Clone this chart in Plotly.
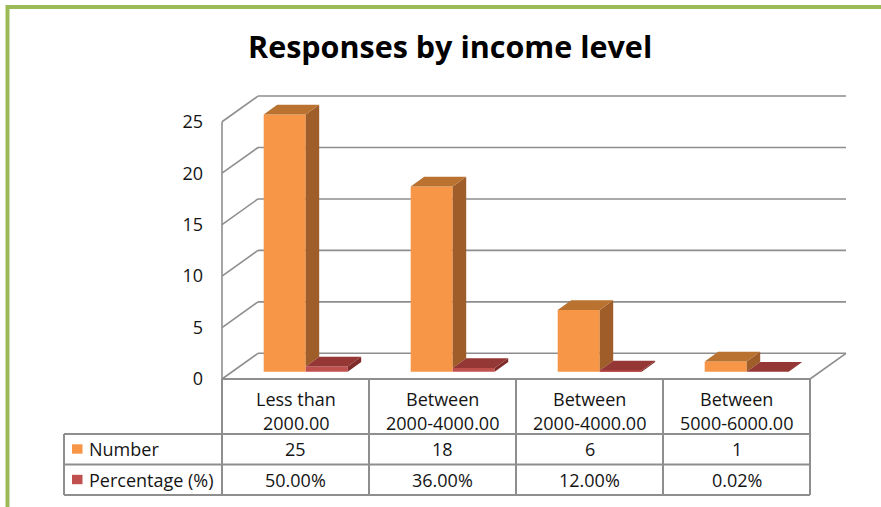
import plotly.graph_objects as go

# chart data
CATEGORIES = ["Less than<br>2000.00", "Between<br>2000-4000.00",
              "Between<br>2000-4000.00", "Between<br>5000-6000.00"]
NUMBER = [25, 18, 6, 1]
PERCENTAGE = [50.00, 36.00, 12.00, 0.02]
Y_TICKS = [0, 5, 10, 15, 20, 25]
TITLE = "Responses by income level"

# styling
W, H = 881, 507
FONT = "Open Sans"
TEXT = "#141414"
GRID = "#8e8e8e"
GREEN = "#9BBB59"
ORANGE = dict(front="#F79646", side="#9E5D29", top="#BA7231")
RED = dict(front="#C0504D", side="#7E2B29", top="#953735")

# pseudo-3d geometry, in data units (1 x unit = one category)
X_PX, Y_PX = 147.0, 10.29          # pixels per data unit
X0_PX, Y0_PX = 222.0, 379.0        # pixel position of the front origin
BACK_DX, BACK_DY = 36 / X_PX, 25.7 / Y_PX
BAR_DX, BAR_DY = 10.2 / X_PX, 7.3 / Y_PX
DEPTH_DX, DEPTH_DY = 13.5 / X_PX, 9.7 / Y_PX
BAR_W = 0.2857


def px(x):
    return x / W


def py(y):
    return 1 - y / H


n = len(CATEGORIES)
pct_values = [p / 100 for p in PERCENTAGE]

fig = go.Figure()

series = [("Number", NUMBER, ORANGE, -0.5), ("Percentage (%)", pct_values, RED, 0.5)]

# front faces
for name, vals, col, off in series:
    fig.add_trace(go.Bar(
        x=[i + 0.5 + BAR_DX + off * BAR_W for i in range(n)],
        y=vals,
        base=BAR_DY,
        width=BAR_W,
        marker=dict(color=col["front"], line_width=0),
        name=name,
        showlegend=False,
        hoverinfo="skip",
    ))


def faces(vals, off, floor_vals=None):
    sx, sy, tx, ty = [], [], [], []
    for i, v in enumerate(vals):
        x0 = i + 0.5 + BAR_DX + off * BAR_W - BAR_W / 2
        x1 = x0 + BAR_W
        b = BAR_DY
        top = b + v
        sb = b + (floor_vals[i] if floor_vals else 0)
        sx += [x1, x1 + DEPTH_DX, x1 + DEPTH_DX, x1, x1, None]
        sy += [sb, sb + DEPTH_DY, top + DEPTH_DY, top, sb, None]
        tx += [x0, x1, x1 + DEPTH_DX, x0 + DEPTH_DX, x0, None]
        ty += [top, top, top + DEPTH_DY, top + DEPTH_DY, top, None]
    return sx, sy, tx, ty


# side and top faces; orange side starts above the red bar standing next to it
for name, vals, col, off in series:
    floor = pct_values if name == "Number" else None
    sx, sy, tx, ty = faces(vals, off, floor)
    for xs, ys, c in ((sx, sy, col["side"]), (tx, ty, col["top"])):
        fig.add_trace(go.Scatter(
            x=xs, y=ys, mode="lines", fill="toself", fillcolor=c,
            line=dict(width=0, color=c), showlegend=False, hoverinfo="skip",
        ))

shapes = []
line = dict(color=GRID, width=1.6)
# walls and floor
for v in Y_TICKS:
    shapes.append(dict(type="line", xref="x", yref="y", layer="below",
                       x0=0, y0=v, x1=BACK_DX, y1=v + BACK_DY, line=line))
    shapes.append(dict(type="line", xref="x", yref="y", layer="below",
                       x0=BACK_DX, y0=v + BACK_DY, x1=n + BACK_DX, y1=v + BACK_DY, line=line))
shapes.append(dict(type="line", xref="x", yref="y", layer="below",
                   x0=0, y0=0, x1=0, y1=max(Y_TICKS), line=line))
shapes.append(dict(type="line", xref="x", yref="y", layer="below",
                   x0=n, y0=0, x1=n + BACK_DX, y1=BACK_DY, line=line))

# data table
tline = dict(color=GRID, width=2)
ROW_TOP, ROW1, ROW2, ROW_BOT = 379, 434, 464.5, 495
LEFT = 64
shapes.append(dict(type="line", xref="x", yref="paper", x0=0, x1=n,
                   y0=py(ROW_TOP), y1=py(ROW_TOP), line=tline))
for yy in (ROW1, ROW2, ROW_BOT):
    shapes.append(dict(type="line", xref="paper", yref="paper", x0=px(LEFT),
                       x1=px(X0_PX + n * X_PX), y0=py(yy), y1=py(yy), line=tline))
for i in range(n + 1):
    shapes.append(dict(type="line", xref="x", yref="paper", x0=i, x1=i,
                       y0=py(ROW_TOP), y1=py(ROW_BOT), line=tline))
shapes.append(dict(type="line", xref="paper", yref="paper", x0=px(LEFT), x1=px(LEFT),
                   y0=py(ROW1), y1=py(ROW_BOT), line=tline))

# legend keys inside the table
for (name, vals, col, off), yc in zip(series, (449, 479.5)):
    shapes.append(dict(type="rect", xref="paper", yref="paper", line_width=0,
                       fillcolor=col["front"], x0=px(72), x1=px(82.5),
                       y0=py(yc - 4.7), y1=py(yc + 4.7)))

# green frame
shapes.append(dict(type="path", xref="paper", yref="paper",
                   path=f"M {px(7.5)},{py(510)} L {px(7.5)},{py(7)} L {px(885)},{py(7)}",
                   line=dict(color=GREEN, width=4)))


def label(text, x, y, size=18, xref="paper", xanchor="center", color=TEXT):
    return dict(text=text, xref=xref, yref="paper", x=x, y=py(y), showarrow=False,
                xanchor=xanchor, yanchor="middle",
                font=dict(family=FONT, size=size, color=color))


annotations = [label(f"<b>{TITLE}</b>", px(450), 46, size=30.5, color="#000")]

for i, cat in enumerate(CATEGORIES):
    for k, part in enumerate(cat.split("<br>")):
        annotations.append(label(part, i + 0.5, 399 + 24 * k, xref="x"))
    annotations.append(label(str(NUMBER[i]), i + 0.5, 449, xref="x"))
    annotations.append(label(f"{PERCENTAGE[i]:.2f}%", i + 0.5, 480, xref="x"))

for (name, vals, col, off), yc in zip(series, (449, 480)):
    annotations.append(label(name, px(87), yc, xanchor="left"))

fig.update_layout(
    width=W, height=H,
    margin=dict(l=0, r=0, t=0, b=0),
    paper_bgcolor="white", plot_bgcolor="white",
    barmode="overlay",
    showlegend=False,
    xaxis=dict(range=[-X0_PX / X_PX, (W - X0_PX) / X_PX], visible=False, fixedrange=True),
    yaxis=dict(
        range=[(Y0_PX - H) / Y_PX, Y0_PX / Y_PX],
        anchor="free", position=px(X0_PX),
        tickvals=Y_TICKS, showgrid=False, zeroline=False, showline=False,
        ticks="", ticklabelstandoff=19,
        tickfont=dict(family=FONT, size=18, color=TEXT),
        fixedrange=True,
    ),
    shapes=shapes,
    annotations=annotations,
)

fig.write_html("out.html", config={"displayModeBar": False},
               post_script="document.body.style.margin='0';")
